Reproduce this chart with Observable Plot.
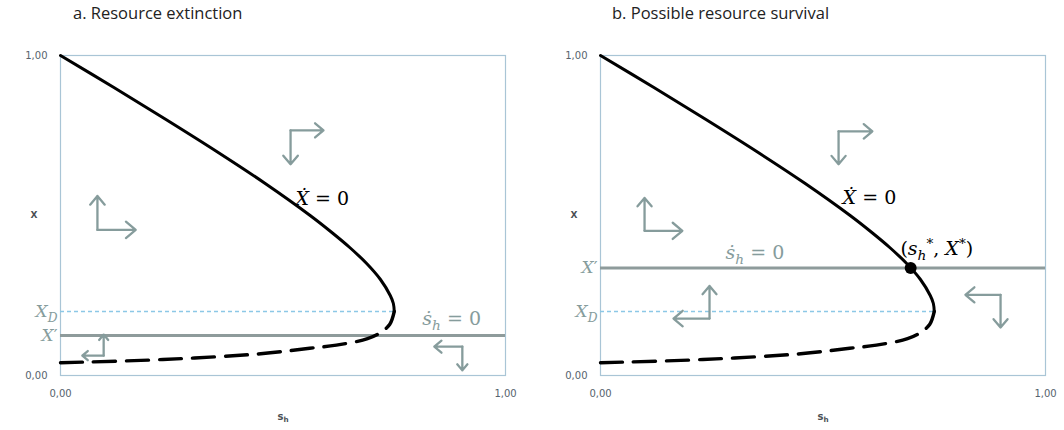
<!DOCTYPE html>
<html><head><meta charset="utf-8">
<script src="https://cdn.jsdelivr.net/npm/d3@7"></script>
<script src="https://cdn.jsdelivr.net/npm/@observablehq/plot@0.6"></script>
<style>
body{margin:0;background:#fff;width:1064px;height:430px;position:relative;overflow:hidden;font-family:"Open Sans",sans-serif}
.title{position:absolute;top:1px;font-size:16.5px;color:#222;white-space:nowrap}
.panel{position:absolute;top:30px}
svg text{white-space:pre}
</style></head><body>
<div id="t0" class="title" style="left:73px"></div>
<div id="t1" class="title" style="left:612px"></div>
<div id="a" class="panel" style="left:0"></div>
<div id="b" class="panel" style="left:532px"></div>
<script>
// ---------- data ----------
const titles = ["a. Resource extinction", "b. Possible resource survival"];
const tickValues = [0, 1];
const tickLabels = ["0,00", "1,00"];
const axisLabelX = "s_h";
const axisLabelY = "X";

// upper branch (Xdot = 0), ordered from X = 1 down to the fold
const upperX = [1.0, 0.9, 0.8, 0.7, 0.6, 0.5, 0.45, 0.4, 0.35, 0.3, 0.25, 0.225, 0.2];
const upperS = [0.0, 0.12, 0.237, 0.351, 0.46, 0.561, 0.607, 0.65, 0.688, 0.719, 0.741, 0.748, 0.75];
// lower branch (dashed), from s = 0 up to the fold
const lowerS = [0.0, 0.23, 0.45, 0.56, 0.62, 0.69, 0.72, 0.74, 0.75];
const lowerX = [0.04, 0.05, 0.068, 0.085, 0.095, 0.115, 0.135, 0.16, 0.2];

const xD = 0.2;                 // X_D level
const xPrimeA = 0.125;          // X' in panel a
const xPrimeB = 0.336;          // X' in panel b
const eqS = 0.697, eqX = 0.336; // (s_h*, X*) in panel b

// phase arrows: [cornerS, cornerX, tipS, tipX]
const arrowsA = [
  [0.083, 0.455, 0.083, 0.561], [0.083, 0.455, 0.169, 0.455],
  [0.517, 0.766, 0.591, 0.766], [0.517, 0.766, 0.517, 0.660],
  [0.097, 0.062, 0.097, 0.128], [0.097, 0.062, 0.049, 0.062],
  [0.903, 0.090, 0.840, 0.090], [0.903, 0.090, 0.903, 0.016]
];
const arrowsB = [
  [0.099, 0.452, 0.099, 0.555], [0.099, 0.452, 0.184, 0.452],
  [0.535, 0.763, 0.611, 0.763], [0.535, 0.763, 0.535, 0.660],
  [0.245, 0.178, 0.245, 0.280], [0.245, 0.178, 0.164, 0.178],
  [0.899, 0.252, 0.820, 0.252], [0.899, 0.252, 0.899, 0.150]
];

// in-plot labels: [s, X, text]
const blackLabelsA = [[0.528, 0.551, "Ẋ = 0"]];
const grayLabelsA  = [[0.813, 0.178, "ṡ_h = 0"]];
const blackLabelsB = [[0.544, 0.554, "Ẋ = 0"], [0.674, 0.396, "(s_h^*, X^*)"]];
const grayLabelsB  = [[0.281, 0.383, "ṡ_h = 0"]];

// ---------- drawing ----------
const GRAY = "#869c9c";
const upper = upperS.map((s, i) => ({s, X: upperX[i]}));
const lower = lowerS.map((s, i) => ({s, X: lowerX[i]}));
const tipS = upperS[upperS.length - 1];
const fmt = d => tickLabels[tickValues.indexOf(d)];

function rich(el, str, size, italic) {
  const ns = "http://www.w3.org/2000/svg";
  el.textContent = "";
  let shift = 0;
  for (let i = 0; i < str.length; i++) {
    let ch = str[i], mode = "n";
    if ((ch === "_" || ch === "^") && i + 1 < str.length) { mode = ch; ch = str[++i]; }
    const ts = document.createElementNS(ns, "tspan");
    const target = mode === "_" ? size * 0.28 : mode === "^" ? -size * 0.38 : 0;
    if (target - shift !== 0) ts.setAttribute("dy", target - shift);
    shift = target;
    if (mode !== "n") ts.setAttribute("font-size", size * 0.72);
    if (italic && /[A-Za-z\u1E8A\u1E61]/.test(ch)) ts.setAttribute("font-style", "italic");
    ts.textContent = ch;
    el.appendChild(ts);
  }
}

function panel(id, opts) {
  const {marginLeft, marginRight, xPrime, arrows, blackLabels, grayLabels, eq} = opts;
  const arrowData = arrows.map(([cs, cX, ts, tX]) => ({cs, cX, ts, tX}));
  const lab = a => a.map(([s, X, text]) => ({s, X, text}));
  const sideLabels = [{X: xD, text: "X_D"}, {X: xPrime, text: "X′"}];
  const svg = Plot.plot({
    width: 532, height: 400,
    marginLeft, marginRight, marginTop: 25, marginBottom: 55,
    style: {background: "white", overflow: "visible"},
    x: {domain: [0, 1]},
    y: {domain: [0, 1]},
    marks: [
      Plot.frame({stroke: "#a9c5d6", strokeWidth: 1.2}),
      Plot.axisX({ticks: tickValues, tickSize: 0, tickPadding: 14, tickFormat: fmt, label: null,
                  fontSize: 10, fontFamily: "DejaVu Sans", fill: "#56636d"}),
      Plot.axisY({ticks: tickValues, tickSize: 0, tickPadding: 13, tickFormat: fmt, label: null,
                  fontSize: 10, fontFamily: "DejaVu Sans", fill: "#56636d"}),
      Plot.ruleY([xD], {x1: 0, x2: tipS, stroke: "#8cc8e6", strokeWidth: 1.4, strokeDasharray: "4,3"}),
      Plot.ruleY([xPrime], {stroke: "#8e9b9b", strokeWidth: 3}),
      Plot.line(lower, {x: "s", y: "X", curve: "catmull-rom", stroke: "black", strokeWidth: 3.4,
                        strokeDasharray: "22,11"}),
      Plot.line(upper, {x: "s", y: "X", curve: "catmull-rom", stroke: "black", strokeWidth: 3}),
      Plot.dot(eq, {x: "s", y: "X", r: 6, fill: "black"}),
      Plot.arrow(arrowData, {x1: "cs", y1: "cX", x2: "ts", y2: "tX", stroke: GRAY, strokeWidth: 2.3,
                             headLength: 11, headAngle: 80, bend: 0}),
      Plot.text(lab(blackLabels), {x: "s", y: "X", text: "text", textAnchor: "start", fill: "black",
                             fontSize: 19, fontFamily: "DejaVu Serif"}),
      Plot.text(lab(grayLabels), {x: "s", y: "X", text: "text", textAnchor: "start", fill: GRAY,
                             fontSize: 19, fontFamily: "DejaVu Serif"}),
      Plot.text(sideLabels, {frameAnchor: "left", y: "X", text: "text", textAnchor: "end", dx: -3,
                             fill: GRAY, fontSize: 17, fontFamily: "DejaVu Serif"}),
      Plot.text([axisLabelY], {frameAnchor: "left", dx: -30, fontWeight: "bold", fontSize: 9,
                             fontFamily: "DejaVu Sans", fill: "#4a4f55"}),
      Plot.text([axisLabelX], {frameAnchor: "bottom", dy: 44, fontWeight: "bold", fontSize: 10,
                             fontFamily: "DejaVu Sans", fill: "#4a4f55"})
    ]
  });
  const mathSet = new Set([...blackLabels, ...grayLabels].map(d => d[2]).concat(sideLabels.map(d => d.text)));
  d3.select(svg).selectAll("text").each(function() {
    const t = this.textContent;
    if (mathSet.has(t)) rich(this, t, +this.closest("g").getAttribute("font-size") || 19, true);
    else if (t === axisLabelX) rich(this, t, 10, false);
  });
  document.getElementById(id).appendChild(svg);
}

document.getElementById("t0").textContent = titles[0];
document.getElementById("t1").textContent = titles[1];

panel("a", {marginLeft: 60, marginRight: 27, xPrime: xPrimeA, arrows: arrowsA,
            blackLabels: blackLabelsA, grayLabels: grayLabelsA, eq: []});
panel("b", {marginLeft: 68, marginRight: 19, xPrime: xPrimeB, arrows: arrowsB,
            blackLabels: blackLabelsB, grayLabels: grayLabelsB, eq: [{s: eqS, X: eqX}]});
</script>
</body></html>
